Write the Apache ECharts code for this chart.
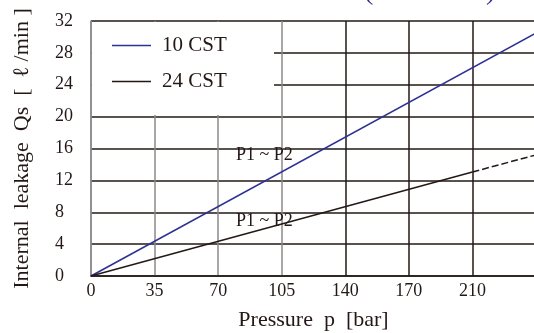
<!DOCTYPE html>
<html>
<head>
<meta charset="utf-8">
<script src="https://cdn.jsdelivr.net/npm/echarts@6/dist/echarts.min.js"></script>
<style>
  html, body { margin: 0; padding: 0; background: #fff; }
  #chart { width: 534px; height: 333px; }
</style>
</head>
<body>
<div id="chart"></div>
<script>
// tick labels as printed on the sheet (one step = 35 bar)
const xTickLabels = ['0', '35', '70', '105', '140', '170', '210'];
const xStep = 35;

// 10 CST line
const pressure10 = [0, 245];
const leak10 = [0, 30.5];

// 24 CST line, measured part and dashed extension
const pressure24 = [0, 210];
const leak24 = [0, 13.05];
const pressure24Ext = [210, 245];
const leak24Ext = [13.05, 15.2];

const ink = '#231815';
const gray = '#8c8889';
const blue = '#2e3192';
const font = 'Liberation Serif';

const pairs = (xs, ys) => xs.map((x, i) => [x, ys[i]]);

const chart = echarts.init(document.getElementById('chart'));

chart.setOption({
  animation: false,
  backgroundColor: '#fff',
  textStyle: { fontFamily: font, color: ink },
  grid: { left: 91, right: -2, top: 21, bottom: 57, outerBoundsMode: 'none' },
  legend: {
    data: ['10 CST', '24 CST'],
    orient: 'vertical',
    left: 112,
    top: 35,
    padding: 0,
    icon: 'rect',
    itemWidth: 39,
    itemHeight: 1.5,
    itemGap: 15,
    textStyle: { fontFamily: font, fontSize: 21, color: ink, padding: [0, 0, 0, 6] }
  },
  xAxis: {
    type: 'value',
    min: 0,
    max: 245,
    interval: xStep,
    name: 'Pressure  p  [bar]',
    nameLocation: 'middle',
    nameGap: 33,
    nameTextStyle: { fontFamily: font, fontSize: 22, color: ink },
    axisLine: { lineStyle: { color: ink, width: 1.5 } },
    axisTick: { show: false },
    axisLabel: {
      fontFamily: font,
      fontSize: 18,
      color: ink,
      margin: 6,
      formatter: v => xTickLabels[Math.round(v / xStep)] || ''
    },
    splitLine: {
      lineStyle: {
        color: [gray, gray, gray, gray, ink, ink, ink, ink],
        width: 1.5
      }
    }
  },
  yAxis: {
    type: 'value',
    min: 0,
    max: 32,
    interval: 4,
    name: 'Internal  leakage  Qs  [  ℓ /min ]',
    nameLocation: 'middle',
    nameGap: 58,
    nameTextStyle: { fontFamily: font, fontSize: 22, color: ink },
    axisLine: { show: true, lineStyle: { color: gray, width: 1.5 } },
    axisTick: { show: false },
    axisLabel: {
      fontFamily: font,
      fontSize: 18,
      color: ink,
      margin: 36,
      align: 'left'
    },
    splitLine: { lineStyle: { color: ink, width: 1.5 } }
  },
  graphic: [
    {
      type: 'rect',
      z: 1,
      shape: { x: 92, y: 22, width: 182, height: 93 },
      style: { fill: '#fff' }
    },
    {
      type: 'text',
      z: 5,
      left: 236,
      top: 146,
      style: { text: 'P1 ~ P2', font: '18px "Liberation Serif"', fill: ink }
    },
    {
      type: 'text',
      z: 5,
      left: 236,
      top: 212,
      style: { text: 'P1 ~ P2', font: '18px "Liberation Serif"', fill: ink }
    },
    {
      type: 'text',
      z: 5,
      left: 364,
      top: -22,
      style: { text: '(', font: '28px "Liberation Serif"', fill: blue }
    },
    {
      type: 'text',
      z: 5,
      left: 486,
      top: -22,
      style: { text: ')', font: '28px "Liberation Serif"', fill: blue }
    }
  ],
  series: [
    {
      name: '10 CST',
      type: 'line',
      showSymbol: false,
      color: blue,
      lineStyle: { color: blue, width: 1.5 },
      data: pairs(pressure10, leak10)
    },
    {
      name: '24 CST',
      type: 'line',
      showSymbol: false,
      color: ink,
      lineStyle: { color: ink, width: 1.5 },
      data: pairs(pressure24, leak24)
    },
    {
      name: '24 CST ext',
      type: 'line',
      showSymbol: false,
      color: ink,
      lineStyle: { color: ink, width: 1.5, type: [7, 3] },
      data: pairs(pressure24Ext, leak24Ext)
    }
  ]
});
</script>
</body>
</html>
